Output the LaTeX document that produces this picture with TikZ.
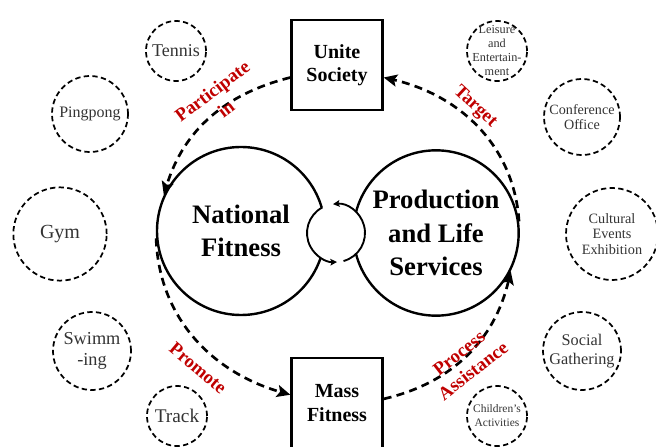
\documentclass[tikz,border=0pt]{standalone}
\usepackage{fontspec}
\setmainfont{Liberation Serif}
\usetikzlibrary{arrows.meta}
\definecolor{darkred}{RGB}{192,0,0}
\newcommand{\fsz}[2]{\fontsize{#1}{#2}\selectfont}

\begin{document}
\begin{tikzpicture}[x=0.75pt,y=0.75pt]
\tikzset{hub/.style={draw,circle,line width=1.8pt,fill=white,inner sep=0pt,align=center,font=\fsz{20}{25}\bfseries},
  box/.style={draw,line width=2pt,minimum width=68pt,minimum height=67.5pt,align=center,font=\fsz{15}{17.5}\bfseries},
  act/.style={draw,circle,line width=1.3pt,dash pattern=on 4pt off 2.5pt,inner sep=0pt,align=center,text=black!80},
  flow/.style={line width=2pt,dash pattern=on 6pt off 4pt,-{Stealth[length=10pt,width=9pt,inset=2pt]}},
  spin/.style={line width=1.4pt,-{Stealth[length=5pt,width=5pt,inset=1pt]}},
  lbl/.style={text=darkred,align=center,font=\fsz{14}{17}\bfseries}};
   \useasboundingbox (0,0) rectangle (656,446);

   \node[hub,minimum size=126pt] (nat) at (241,215) {National\\Fitness};
   \node[hub,minimum size=124pt] (prod) at (436,213) {Production\\and Life\\Services};
   \node[circle,fill=white,inner sep=0pt,outer sep=0pt,minimum size=43.5pt] (mid) at (336,213) {};
   \draw[spin] (mid.-75) arc[start angle=-75,end angle=96,radius=29];
   \draw[spin] (mid.118) arc[start angle=118,end angle=272,radius=29];

   \node[box] (unite) at (337,381) {Unite\\Society};
   \node[box] (mass) at (337,43) {Mass\\Fitness};

   % sports on the left
   \node[act,minimum size=45pt,font=\fsz{13.5}{16}] (tennis) at (176,395) {Tennis};
   \node[act,minimum size=57pt,font=\fsz{12}{14}] (ping) at (90,332) {Pingpong};
   \node[act,minimum size=70pt,font=\fsz{15}{17}] (gym) at (60,212) {Gym};
   \node[act,minimum size=58.5pt,font=\fsz{13.7}{15.8}] (swim) at (92,95) {Swimm\\-ing};
   \node[act,minimum size=45pt,font=\fsz{14.5}{16}] (track) at (177,30) {Track};

   % services on the right
   \node[act,minimum size=45pt,inner sep=-6pt,font=\fsz{9.2}{10.5}] (leis) at (497,395) {Leisure\\and\\Entertain-\\ment};
   \node[act,minimum size=57pt,font=\fsz{10.6}{11.3}] (conf) at (582,329) {Conference\\Office};
   \node[act,minimum size=69pt,font=\fsz{10.7}{11.8}] (cult) at (612,212) {Cultural\\Events\\Exhibition};
   \node[act,minimum size=58.5pt,font=\fsz{12.2}{13.7}] (social) at (582,95) {Social\\Gathering};
   \node[act,minimum size=45pt,font=\fsz{8.6}{10.5}] (child) at (497,30) {Children's\\Activities};

   \draw[flow] (unite.195) to[out=194,in=73] (nat.155);
   \draw[flow] (nat.185) to[out=272,in=164] (mass.170);
   \draw[flow] (mass.5) to[out=13,in=-103] (prod.-27);
   \draw[flow] (prod.8) to[out=94,in=-13] (unite.-15);

   \node[lbl,rotate=37] (lpart) at (219,346) {Participate\\in};
   \node[lbl,rotate=-43] (ltarget) at (475,339) {Target};
   \node[lbl,rotate=-40] (lpromote) at (198,78) {Promote};
   \node[lbl,rotate=38] (lprocess) at (466,84) {Process\\Assistance};
\end{tikzpicture}
\end{document}
